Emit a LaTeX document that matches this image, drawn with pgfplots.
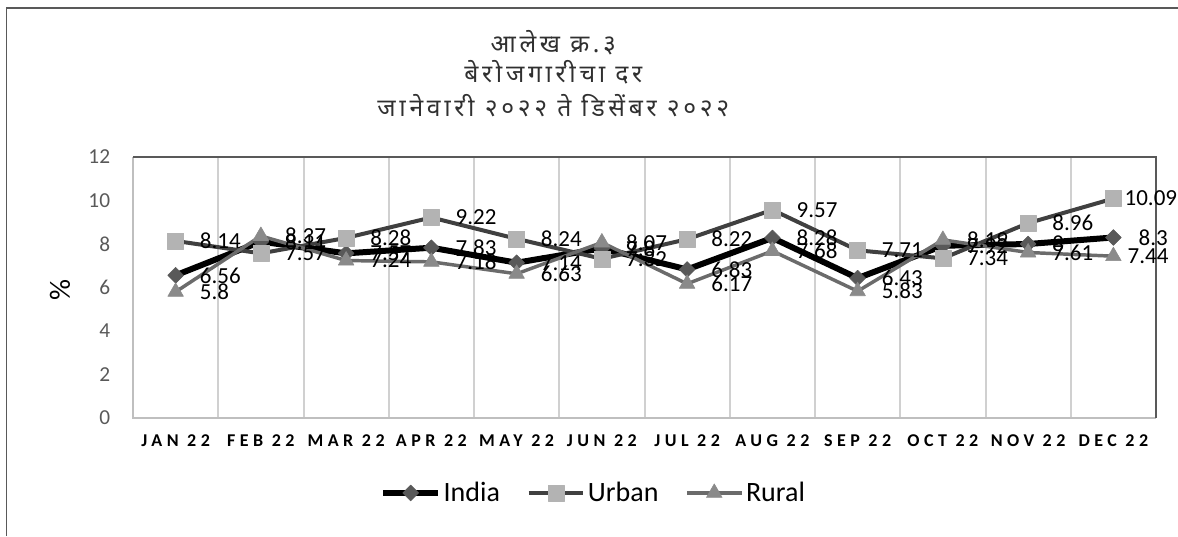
\documentclass[border=0pt]{standalone}
\usepackage{fontspec}
\setmainfont{Carlito}
\newfontfamily\deva[Script=Devanagari, LetterSpace=15]{Noto Sans}
\newfontfamily\xlab[LetterSpace=25]{Carlito}
\usepackage{pgfplots}
\usepackage{pgfplotstable}
\pgfplotsset{compat=1.18}
\definecolor{cIndiaM}{HTML}{595959}
\definecolor{cUrbanL}{HTML}{404040}
\definecolor{cUrbanM}{HTML}{B3B3B3}
\definecolor{cRuralL}{HTML}{6B6B6B}
\definecolor{cRuralM}{HTML}{8A8A8A}
\definecolor{tickgray}{HTML}{595959}
\definecolor{gridgray}{HTML}{D0D0D0}
\definecolor{framedark}{HTML}{595959}
\definecolor{framelight}{HTML}{BFBFBF}
\definecolor{titlecol}{HTML}{303030}

\pgfplotstableread{
x india urban rural si su sr
1 6.56 8.14 5.80 18 18 18
2 8.11 7.57 8.37 18 18 18
3 7.57 8.28 7.24 18 18 18
4 7.83 9.22 7.18 18 18 18
5 7.14 8.24 6.63 18 18 18
6 7.80 7.32 8.07 18 18 18
7 6.83 8.22 6.17 18 18 18
8 8.28 9.57 7.68 18 18 18
9 6.43 7.71 5.83 18 18 18
10 7.92 7.34 8.19 18 18 18
11 8.00 8.96 7.61 18 18 18
12 8.30 10.09 7.44 18.75 8.25 10.5
}\data

\begin{document}
\begin{tikzpicture}
\useasboundingbox (0,0) rectangle (883.5pt,-402pt);
\begin{axis}[
  at={(99.75pt,-313.5pt)}, anchor=south west,
  width=767.25pt, height=195.75pt, scale only axis,
  xmin=0.5, xmax=12.5, ymin=0, ymax=12,
  xtick={1,...,12},
  xticklabels={JAN 22,FEB 22,MAR 22,APR 22,MAY 22,JUN 22,JUL 22,AUG 22,SEP 22,OCT 22,NOV 22,DEC 22},
  minor xtick={1.5,2.5,...,11.5},
  xminorgrids,
  minor grid style={draw=gridgray, line width=1.5pt},
  ytick={0,2,...,12},
  major tick length=0pt, minor tick length=0pt,
  tick style={draw=none},
  axis line style={draw=none},
  /pgf/number format/assume math mode=true,
  yticklabel style={font=\fontsize{16}{16}\selectfont, text=tickgray, inner sep=0pt, anchor=east, xshift=-17pt},
  xticklabel style={font=\xlab\bfseries\fontsize{13.5}{13.5}\selectfont, text=black, inner sep=0pt, anchor=north, yshift=-12pt},
  clip=false,
  legend style={at={(0.4506,-0.287)}, anchor=center, draw=none, fill=none,
    legend columns=3, font=\fontsize{21}{21}\selectfont, inner sep=0pt,
    /tikz/every even column/.append style={column sep=18pt}},
  legend image code/.code={\draw[mark repeat=2,mark phase=2,#1] plot coordinates {(0pt,0pt)(20.5pt,0pt)(41pt,0pt)};},
  every node near coord/.append style={anchor=west, inner sep=0pt, font=\fontsize{17.25}{17.25}\selectfont, text=black},
]
\addplot[black, line width=4.5pt, line join=round, mark=square*, mark size=4.2pt,
  mark options={rotate=45, fill=cIndiaM, draw=cIndiaM, line width=0.4pt},
  nodes near coords, point meta=y,
  visualization depends on={\thisrow{si} \as \sh},
  every node near coord/.append style={xshift=\sh pt}]
  table[x=x,y=india] {\data};
\addlegendentry{India}
\addplot[cUrbanL, line width=3pt, line join=round, mark=square*, mark size=6pt,
  mark options={fill=cUrbanM, draw=cUrbanM, line width=0.4pt},
  nodes near coords, point meta=y,
  visualization depends on={\thisrow{su} \as \sh},
  every node near coord/.append style={xshift=\sh pt}]
  table[x=x,y=urban] {\data};
\addlegendentry{Urban}
\addplot[cRuralL, line width=2.6pt, line join=round, mark=triangle*, mark size=6.8pt,
  mark options={fill=cRuralM, draw=cRuralM, line width=0.4pt},
  nodes near coords, point meta=y,
  visualization depends on={\thisrow{sr} \as \sh},
  every node near coord/.append style={xshift=\sh pt}]
  table[x=x,y=rural] {\data};
\addlegendentry{Rural}
\draw[color=framelight, line width=1.5pt] (rel axis cs:0,1) -- (rel axis cs:0,0) -- (rel axis cs:1,0);
\draw[color=framedark, line width=1.5pt] (rel axis cs:0,1) -- (rel axis cs:1,1) -- (rel axis cs:1,0);
\end{axis}
\draw[color=framedark, line width=1.2pt] (4.9pt,-402pt) -- (4.9pt,-6pt) -- (883.5pt,-6pt);
\node[rotate=90, font=\fontsize{22}{22}\selectfont, inner sep=0pt] at (45pt,-217.5pt) {\%};
\node[font=\deva\fontsize{18.5}{18.5}\selectfont, text=titlecol, inner sep=0pt] at (415pt,-32pt) {आलेख क्र.३};
\node[font=\deva\fontsize{18.5}{18.5}\selectfont, text=titlecol, inner sep=0pt] at (415pt,-54.5pt) {बेरोजगारीचा दर};
\node[font=\deva\fontsize{18.5}{18.5}\selectfont, text=titlecol, inner sep=0pt] at (415pt,-79pt) {जानेवारी २०२२ ते डिसेंबर २०२२};
\end{tikzpicture}
\end{document}
